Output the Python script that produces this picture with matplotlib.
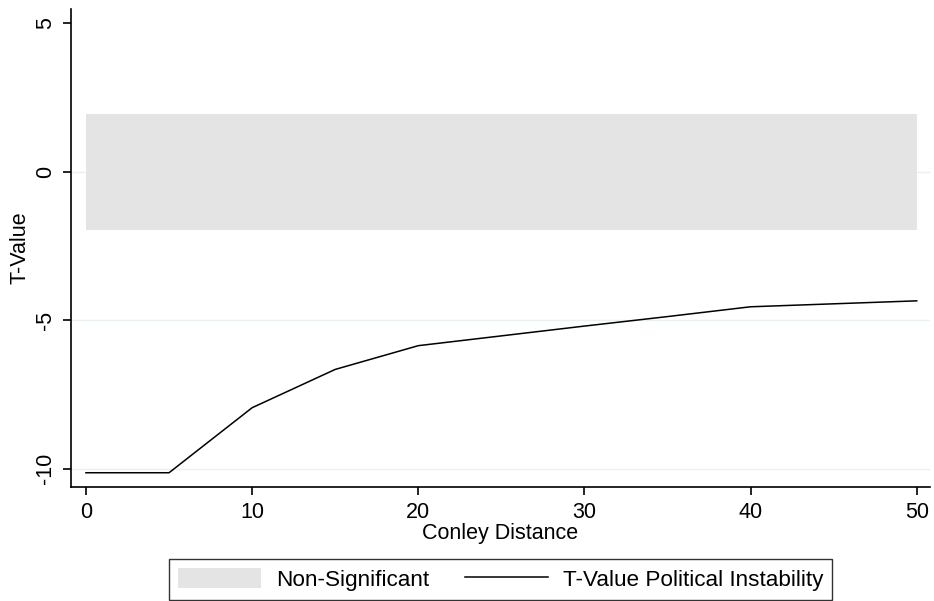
import numpy as np
import matplotlib.pyplot as plt
from matplotlib.patches import Patch
from matplotlib.lines import Line2D

plt.rcParams['font.family'] = ['Liberation Sans', 'DejaVu Sans']

# t-values by Conley cutoff distance
distance = [0, 5, 10, 15, 20, 25, 30, 35, 40, 45, 50]
t_value = [-10.14, -10.14, -7.95, -6.66, -5.86, -5.53, -5.20, -4.88, -4.55, -4.45, -4.35]

# non-significance band (|t| < 1.96)
band_lo, band_hi = -1.96, 1.96
yticks = [-10, -5, 0, 5]
xticks = [0, 10, 20, 30, 40, 50]

fig = plt.figure(figsize=(9.34, 6.01), dpi=100)
ax = fig.add_axes([71/934, 1 - 487/601, 859/934, 478/601])

for y in [-10, -5, 0]:
    ax.axhline(y, color='#eaf1f3', lw=1.0, zorder=0)

ax.fill_between([distance[0], distance[-1]], band_lo, band_hi,
                color='#e4e4e4', lw=0, zorder=1)
ax.plot(distance, t_value, color='black', lw=1.1, zorder=2)

ax.set_xlim(-0.9, 50.8)
ax.set_ylim(-10.62, 5.48)
ax.set_xticks(xticks)
ax.set_yticks(yticks)
ax.set_yticklabels([str(v) for v in yticks], rotation=90, va='center')

for side in ['top', 'right']:
    ax.spines[side].set_visible(False)
for side in ['left', 'bottom']:
    ax.spines[side].set_linewidth(1.2)
ax.tick_params(axis='both', direction='out', length=6, width=1.2,
               labelsize=15.5, pad=5)

ax.set_xlabel('Conley Distance', fontsize=15.5)
ax.xaxis.set_label_coords(0.5, -0.075)
ax.set_ylabel('T-Value', fontsize=15.5)
ax.yaxis.set_label_coords(-0.047, 0.5)

handles = [Patch(facecolor='#e4e4e4', edgecolor='none'),
           Line2D([0], [0], color='black', lw=1.1)]
leg = fig.legend(handles, ['Non-Significant', 'T-Value Political Instability'],
                 loc='upper center', bbox_to_anchor=(0.536, 0.070), ncol=2,
                 fontsize=16.2, frameon=True, fancybox=False, edgecolor='black',
                 borderaxespad=0, handlelength=3.69, handleheight=1.0,
                 columnspacing=1.6, handletextpad=0.67, borderpad=0.4)
leg.get_frame().set_linewidth(1.0)

fig.savefig('out.png', dpi=100)
